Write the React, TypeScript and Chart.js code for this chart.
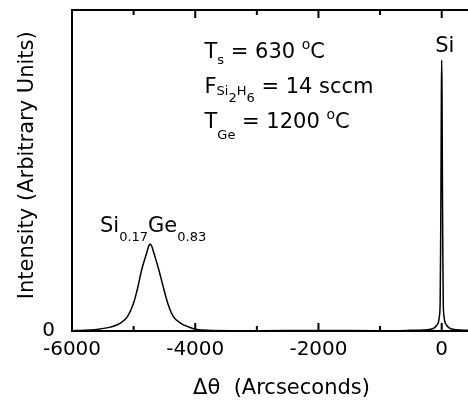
import React, { useEffect, useRef } from 'react';
import { Chart, registerables } from 'chart.js';

Chart.register(...registerables);

// ---- data ----
const ANGLE = [
  -6000, -5800, -5600, -5380, -5220, -5100, -5000, -4930, -4870, -4790, -4760, -4735, -4705,
  -4670, -4590, -4520, -4445, -4355, -4235, -4085, -3975, -3800, -3400, -3000, -2000, -1000,
  -800, -500, -300, -200, -120, -80, -50, -35, -25, -18, -12, -8, -5, 0, 5, 8, 12, 18, 25, 35,
  50, 80, 120, 200, 300, 500, 800,
];
const INTENSITY = [
  0.001, 0.002, 0.005, 0.012, 0.024, 0.045, 0.087, 0.138, 0.19, 0.242, 0.262, 0.271, 0.264,
  0.242, 0.19, 0.138, 0.086, 0.045, 0.024, 0.011, 0.005, 0.002, 0.001, 0.001, 0.0015, 0.001,
  0.001, 0.002, 0.003, 0.005, 0.01, 0.018, 0.03, 0.05, 0.09, 0.25, 0.45, 0.63, 0.75, 0.844,
  0.75, 0.63, 0.45, 0.25, 0.09, 0.05, 0.03, 0.018, 0.01, 0.005, 0.003, 0.002, 0.001,
];

const X_MIN = -6000;
const X_MAX = 800;
const Y_MIN = 0;
const Y_MAX = 1;
const X_LABEL_TICKS = [-6000, -4000, -2000, 0];
const X_MINOR_TICKS = [-5000, -3000, -1000];
const Y_LABEL_TICKS = [0];
const X_TITLE = 'Δθ  (Arcseconds)';
const Y_TITLE = '\u2002Intensity (Arbitrary Units)';

type Seg = { t: string; k: string };
const CONDITIONS: Seg[][] = [
  [{ t: 'T', k: 'n' }, { t: 's', k: 's' }, { t: ' = 630 ', k: 'n' }, { t: 'o', k: 'sup' }, { t: 'C', k: 'n' }],
  [{ t: 'F', k: 'n' }, { t: 'Si', k: 'sh' }, { t: '2', k: 'ss' }, { t: 'H', k: 'sh' }, { t: '6', k: 'ss' }, { t: ' = 14 sccm', k: 'n' }],
  [{ t: 'T', k: 'n' }, { t: 'Ge', k: 'sl' }, { t: ' = 1200 ', k: 'n' }, { t: 'o', k: 'sup' }, { t: 'C', k: 'n' }],
];
const CONDITION_X = -3850;
const CONDITION_Y = [0.85, 0.741, 0.632];

const PEAK_LABELS = [
  { x: -5546, y: 0.309, align: 'left', segs: [{ t: 'Si', k: 'n' }, { t: '0.17', k: 'sn' }, { t: 'Ge', k: 'n' }, { t: '0.83', k: 'sn' }] },
  { x: 50, y: 0.869, align: 'center', segs: [{ t: 'Si', k: 'n' }] },
];

// ---- styling ----
const FAMILY = '"DejaVu Sans", sans-serif';
const SEG_SIZE: Record<string, number> = { n: 21, s: 13, sh: 13, ss: 13, sl: 13, sn: 13, sup: 14 };
const SEG_DY: Record<string, number> = { n: 0, s: 6, sh: 2, ss: 9, sl: 11, sn: 9, sup: -9 };

function drawSegs(ctx: CanvasRenderingContext2D, x: number, y: number, segs: Seg[], align: string) {
  let total = 0;
  for (const s of segs) {
    ctx.font = `${SEG_SIZE[s.k]}px ${FAMILY}`;
    total += ctx.measureText(s.t).width;
  }
  let cx = align === 'center' ? x - total / 2 : x;
  for (const s of segs) {
    ctx.font = `${SEG_SIZE[s.k]}px ${FAMILY}`;
    ctx.fillText(s.t, cx, y + SEG_DY[s.k]);
    cx += ctx.measureText(s.t).width;
  }
}

const framePlugin = {
  id: 'frameTicks',
  afterDatasetsDraw(chart: any) {
    const { ctx, chartArea } = chart;
    const { left, right, top, bottom } = chartArea;
    const xs = chart.scales.x;
    ctx.save();
    ctx.strokeStyle = '#000';
    ctx.lineWidth = 2;
    ctx.strokeRect(left, top, right - left, bottom - top);
    ctx.beginPath();
    const addTick = (v: number, len: number) => {
      const px = xs.getPixelForValue(v);
      ctx.moveTo(px, bottom);
      ctx.lineTo(px, bottom - len);
      ctx.moveTo(px, top);
      ctx.lineTo(px, top + len);
    };
    X_LABEL_TICKS.forEach((v) => addTick(v, 8));
    X_MINOR_TICKS.forEach((v) => addTick(v, 5));
    ctx.stroke();
    ctx.restore();
  },
  afterDraw(chart: any) {
    const { ctx } = chart;
    const xs = chart.scales.x;
    const ys = chart.scales.y;
    ctx.save();
    ctx.fillStyle = '#000';
    ctx.textBaseline = 'alphabetic';
    ctx.textAlign = 'left';
    CONDITIONS.forEach((line, i) => {
      drawSegs(ctx, xs.getPixelForValue(CONDITION_X), ys.getPixelForValue(CONDITION_Y[i]), line, 'left');
    });
    PEAK_LABELS.forEach((p) => {
      drawSegs(ctx, xs.getPixelForValue(p.x), ys.getPixelForValue(p.y), p.segs, p.align);
    });
    ctx.restore();
  },
};

export default function App() {
  const canvasRef = useRef<HTMLCanvasElement | null>(null);

  useEffect(() => {
    if (!canvasRef.current) return;
    Chart.defaults.font.family = FAMILY;
    Chart.defaults.color = '#000';
    const points = ANGLE.map((a, i) => ({ x: a, y: INTENSITY[i] }));
    const chart = new Chart(canvasRef.current, {
      type: 'line',
      data: {
        datasets: [
          {
            data: points,
            borderColor: '#000',
            borderWidth: 1.5,
            borderJoinStyle: 'round',
            pointRadius: 0,
            fill: false,
            cubicInterpolationMode: 'monotone',
          },
        ],
      },
      options: {
        animation: false,
        responsive: true,
        maintainAspectRatio: false,
        layout: { padding: { top: 10, right: 9, bottom: 0, left: 0 } },
        plugins: { legend: { display: false }, tooltip: { enabled: false } },
        scales: {
          x: {
            type: 'linear',
            min: X_MIN,
            max: X_MAX,
            afterBuildTicks: (s: any) => {
              s.ticks = X_LABEL_TICKS.map((v) => ({ value: v }));
            },
            afterFit: (s: any) => {
              s.height = 69;
              s.paddingLeft = 0;
              s.paddingRight = 0;
            },
            grid: { display: false, drawTicks: false },
            border: { display: false },
            ticks: {
              font: { size: 20, family: FAMILY },
              color: '#000',
              padding: 7,
              maxRotation: 0,
              autoSkip: false,
              callback: (v: any) => String(v),
            },
            title: {
              display: true,
              text: X_TITLE,
              color: '#000',
              font: { size: 21, family: FAMILY, lineHeight: 1.05 },
              padding: 0,
            },
          },
          y: {
            type: 'linear',
            min: Y_MIN,
            max: Y_MAX,
            afterBuildTicks: (s: any) => {
              s.ticks = Y_LABEL_TICKS.map((v) => ({ value: v }));
            },
            afterFit: (s: any) => {
              s.width = 72;
              s.paddingTop = 0;
              s.paddingBottom = 0;
            },
            grid: { display: false, drawTicks: false },
            border: { display: false },
            ticks: {
              font: { size: 20, family: FAMILY },
              color: '#000',
              padding: 17,
              callback: (v: any) => String(v),
            },
            title: {
              display: true,
              text: Y_TITLE,
              color: '#000',
              font: { size: 21, family: FAMILY, lineHeight: 1.2 },
              padding: { top: 15, bottom: 0 },
            },
          },
        },
      },
      plugins: [framePlugin],
    } as any);
    return () => chart.destroy();
  }, []);

  return (
    <div style={{ position: 'fixed', left: 0, top: 0, width: 468, height: 400, overflow: 'hidden', background: '#fff' }}>
      <div style={{ position: 'relative', width: 500, height: 400 }}>
        <canvas ref={canvasRef} />
      </div>
    </div>
  );
}
